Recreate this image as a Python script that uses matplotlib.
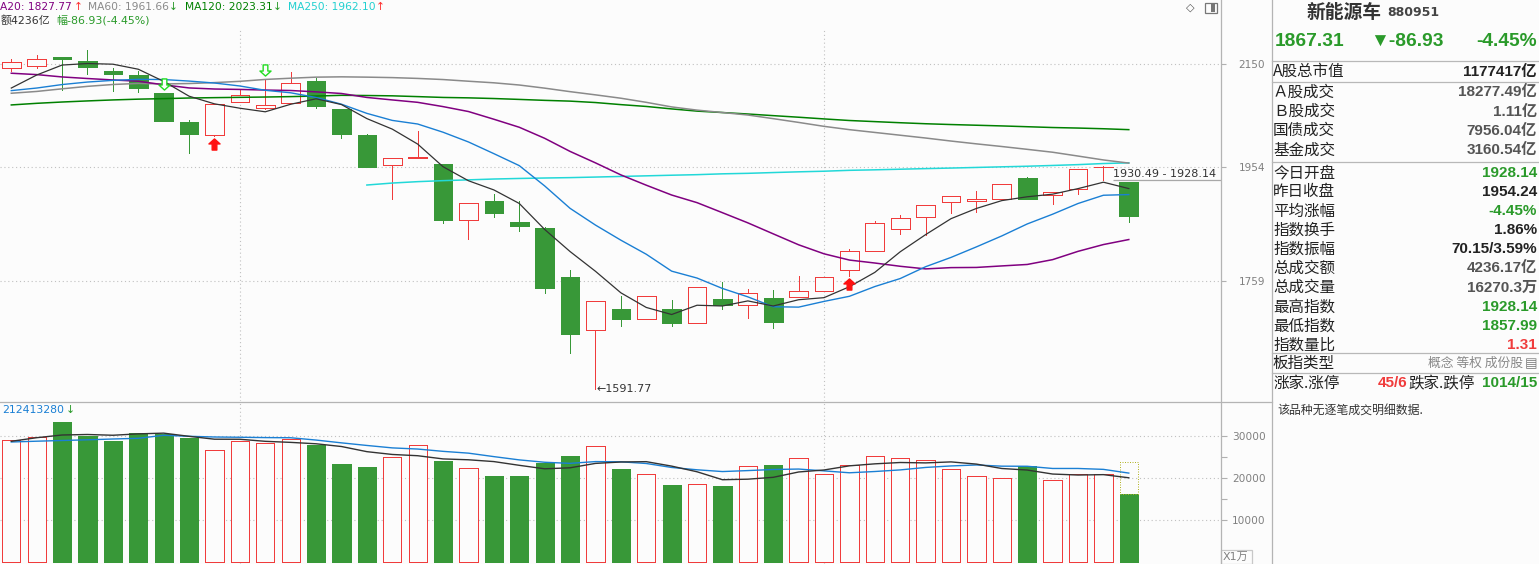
import numpy as np
import matplotlib
matplotlib.use("Agg")
import matplotlib.pyplot as plt
from matplotlib.patches import Rectangle
from matplotlib.lines import Line2D
from matplotlib.path import Path
from matplotlib.ticker import FixedLocator, NullLocator, NullFormatter
from matplotlib.transforms import offset_copy

plt.rcParams['font.family'] = ['DejaVu Sans', 'Noto Sans CJK SC']

# ---- daily candles (index points) ----
opens = [2141.4, 2145.3, 2163.9, 2155.9, 2136.0, 2128.2, 2093.0, 2037.6, 2013.8, 2075.1,
         2064.8, 2073.2, 2116.4, 2062.3, 2013.3, 1957.6, 1971.8, 1960.0, 1860.5, 1894.0,
         1857.6, 1847.3, 1765.5, 1680.5, 1714.0, 1697.7, 1713.5, 1691.4, 1729.9, 1719.8,
         1732.0, 1733.6, 1742.3, 1776.4, 1807.9, 1845.1, 1865.7, 1891.8, 1893.5, 1897.0,
         1934.2, 1904.0, 1915.7, 1953.8, 1928.14]
highs = [2159.9, 2167.9, 2164.6, 2177.9, 2141.4, 2136.0, 2093.0, 2041.4, 2071.3, 2100.2,
         2119.7, 2134.1, 2122.8, 2062.3, 2015.1, 1970.3, 2020.7, 1960.0, 1890.0, 1906.3,
         1894.0, 1848.5, 1776.9, 1726.2, 1735.2, 1734.2, 1728.3, 1748.7, 1756.8, 1746.0,
         1744.3, 1767.1, 1765.5, 1811.8, 1859.3, 1869.7, 1886.5, 1902.3, 1911.6, 1924.0,
         1936.5, 1909.9, 1951.0, 1957.0, 1928.14]
lows = [2136.6, 2141.4, 2098.8, 2130.7, 2097.5, 2095.5, 2040.1, 1980.6, 2010.8, 2075.1,
        2062.8, 2073.2, 2063.6, 2008.2, 1955.1, 1898.1, 1971.8, 1856.4, 1828.1, 1866.7,
        1842.7, 1739.0, 1646.1, 1591.77, 1687.7, 1697.7, 1687.7, 1691.4, 1714.4, 1700.2,
        1684.6, 1733.6, 1742.3, 1767.1, 1807.9, 1837.6, 1834.9, 1872.6, 1875.4, 1897.0,
        1897.5, 1888.3, 1905.8, 1930.49, 1857.99]
closes = [2153.3, 2159.3, 2159.9, 2144.6, 2130.7, 2103.3, 2040.1, 2015.7, 2071.3, 2088.6,
          2069.3, 2111.9, 2068.6, 2015.7, 1955.1, 1970.3, 1972.7, 1861.5, 1890.0, 1873.6,
          1851.2, 1748.1, 1675.2, 1726.2, 1698.6, 1734.2, 1692.4, 1748.7, 1720.3, 1739.0,
          1693.5, 1742.3, 1765.5, 1808.4, 1855.9, 1864.0, 1886.5, 1902.3, 1897.0, 1924.0,
          1897.5, 1909.9, 1951.0, 1954.24, 1867.31]

# ---- moving averages as shown ----
ma5 = [2102.7, 2128.2, 2147.9, 2150.9, 2149.6, 2139.6, 2115.7, 2086.9, 2072.2, 2063.8,
       2057.0, 2071.4, 2081.9, 2070.8, 2044.1, 2024.3, 1996.5, 1955.1, 1929.9, 1913.6,
       1889.8, 1844.9, 1807.6, 1774.9, 1739.9, 1716.5, 1705.3, 1720.0, 1718.8, 1726.9,
       1718.8, 1728.8, 1732.1, 1749.7, 1773.1, 1807.2, 1836.1, 1863.4, 1881.1, 1894.8,
       1901.5, 1906.1, 1915.9, 1927.3, 1916.0]
ma10 = [2097.7, 2102.7, 2109.5, 2114.4, 2117.7, 2119.7, 2119.3, 2116.3, 2112.5, 2106.7,
        2098.3, 2093.5, 2084.4, 2071.5, 2054.0, 2040.7, 2033.9, 2018.5, 2000.4, 1978.9,
        1957.1, 1920.7, 1881.3, 1852.4, 1826.7, 1803.1, 1775.1, 1763.8, 1746.9, 1733.4,
        1717.6, 1717.0, 1726.1, 1734.3, 1750.0, 1763.0, 1782.4, 1797.8, 1815.4, 1833.9,
        1854.3, 1871.1, 1889.7, 1904.2, 1905.4]
ma20 = [2131.7, 2129.0, 2124.4, 2121.3, 2118.5, 2116.0, 2109.0, 2102.9, 2100.8, 2100.0,
        2098.8, 2097.9, 2095.3, 2092.1, 2084.5, 2079.7, 2075.1, 2066.9, 2057.5, 2042.9,
        2027.8, 2007.2, 1983.0, 1962.1, 1940.4, 1922.0, 1904.6, 1891.2, 1873.7, 1856.2,
        1837.4, 1818.9, 1803.8, 1793.4, 1788.5, 1783.1, 1778.8, 1780.9, 1781.2, 1783.7,
        1786.1, 1794.1, 1807.9, 1819.3, 1827.77]
ma60 = [2092.6, 2096.1, 2101.2, 2106.0, 2109.6, 2111.7, 2110.7, 2111.5, 2113.3, 2115.8,
        2119.5, 2121.9, 2124.0, 2124.6, 2124.0, 2123.1, 2121.5, 2119.3, 2116.0, 2112.9,
        2108.6, 2102.5, 2095.7, 2089.5, 2083.0, 2075.1, 2066.3, 2060.2, 2055.6, 2050.9,
        2044.0, 2036.9, 2029.5, 2023.3, 2018.1, 2012.9, 2007.7, 2002.1, 1996.9, 1992.0,
        1986.8, 1981.5, 1974.5, 1967.4, 1961.66]
ma120 = [2070.1, 2073.2, 2075.7, 2077.8, 2079.7, 2081.2, 2082.2, 2083.4, 2084.1, 2084.7,
         2085.3, 2086.1, 2087.2, 2088.6, 2088.2, 2087.6, 2086.1, 2084.5, 2083.7, 2082.4,
         2080.7, 2078.9, 2077.4, 2074.7, 2070.7, 2067.2, 2062.5, 2058.3, 2055.6, 2052.8,
         2049.7, 2046.7, 2043.5, 2040.5, 2038.4, 2036.3, 2034.4, 2032.9, 2031.6, 2030.3,
         2028.8, 2027.3, 2026.3, 2025.0, 2023.31]
ma250 = [np.nan] * 14 + [1922.3, 1925.8, 1928.3, 1930.1, 1931.5, 1933.0, 1934.0, 1934.8,
                         1935.5, 1936.5, 1937.6, 1938.7, 1939.8, 1940.8, 1942.3, 1943.2,
                         1944.6, 1945.9, 1947.0, 1948.6, 1949.5, 1950.6, 1951.7, 1952.7,
                         1953.8, 1954.9, 1956.0, 1957.4, 1958.9, 1960.9, 1962.10]

buy_marks = [8, 33]     # red up arrows
sell_marks = [6, 10]    # green hollow down arrows
month_lines = [9, 32]
price_ticks = [1759, 1954, 2150]
gap_text = '1930.49 - 1928.14'

# ---- volume (x1万) ----
vols = [29120, 29763, 33405, 30072, 28882, 30786, 30620, 29596, 26667, 28810,
        28334, 29358, 27929, 23405, 22691, 25000, 27858, 24120, 22381, 20548,
        20548, 23715, 25310, 27620, 22215, 20953, 18405, 18572, 18167, 22858,
        23167, 24762, 20953, 23096, 25239, 24762, 24286, 22143, 20477, 20000,
        22929, 19524, 20953, 20953, 16270.3]
vol_ma5 = [28810, 29667, 30310, 30430, 30248, 30582, 30753, 29991, 29310, 29296,
           28805, 28553, 28220, 27567, 26343, 25677, 25377, 24615, 24410, 23981,
           23091, 22262, 22500, 23548, 23882, 23963, 22901, 21553, 19662, 19791,
           20234, 21505, 21981, 22967, 23443, 23762, 23667, 23905, 23381, 22334,
           21967, 21015, 20777, 20872, 20126]
vol_ma10 = [28643, 28834, 29000, 29167, 29358, 29524, 30238, 30000, 29834, 29772,
            29694, 29653, 29105, 28439, 27820, 27241, 26965, 26417, 25989, 25162,
            24384, 23820, 23558, 23979, 23932, 23527, 22582, 22027, 21605, 21836,
            22098, 22203, 21767, 21315, 21617, 21998, 22586, 22943, 23174, 22889,
            22865, 22341, 22341, 22127, 21241.3]
vol_est_last = 23810
vol_ticks = [10000, 20000, 30000]
vol_minor = [15000, 25000]

# ---- side panel ----
name, code = '新能源车', '880951'
quote = ['1867.31', '▼-86.93', '-4.45%']
mkt_label, mkt_value = 'A股总市值', '1177417亿'
turn_labels = ['Ａ股成交', 'Ｂ股成交', '国债成交', '基金成交']
turn_values = ['18277.49亿', '1.11亿', '7956.04亿', '3160.54亿']
stat_labels = ['今日开盘', '昨日收盘', '平均涨幅', '指数换手', '指数振幅',
               '总成交额', '总成交量', '最高指数', '最低指数', '指数量比']
stat_values = ['1928.14', '1954.24', '-4.45%', '1.86%', '70.15/3.59%',
               '4236.17亿', '16270.3万', '1928.14', '1857.99', '1.31']

BG = '#fcfcfc'
RED = '#f03c3c'
GREEN = '#389838'
TGREEN = '#2a9a2a'
LINEC = '#b8b8b8'
W, H = 1539, 564
LW = 0.72   # one pixel

def fx(x):
    return x / W

def fy(y):
    return 1 - y / H

fig = plt.figure(figsize=(W / 100, H / 100), dpi=100)
fig.patch.set_facecolor(BG)

ax = fig.add_axes([0, fy(401), fx(1221), 401 / H])
axv = fig.add_axes([0, 0, fx(1221), (H - 402) / H])
for a in (ax, axv):
    a.set_facecolor(BG)
    for s in a.spines.values():
        s.set_visible(False)
    a.set_xlim(-0.445, 47.63)
    a.set_xticks([])

idx = np.arange(len(closes))
bw = 0.736

# ---- price panel ----
ax.set_yscale('log')
ax.set_ylim(1574.2, 2281.1)
ax.yaxis.tick_right()
ax.yaxis.set_major_locator(FixedLocator(price_ticks))
ax.yaxis.set_minor_locator(NullLocator())
ax.yaxis.set_minor_formatter(NullFormatter())
ax.set_yticklabels([str(t) for t in price_ticks])
ax.tick_params(axis='y', length=3.6, width=0.8, color='#b0b0b0', pad=8.9,
               labelsize=7.6, labelcolor='#808080')
for t in price_ticks:
    ax.axhline(t, color='#c0c0c0', lw=0.8, ls=(0, (1, 2.5)), zorder=1)
for m in month_lines:
    ax.axvline(m, ymax=0.925, color='#c0c0c0', lw=0.8, ls=(0, (1, 2.5)), zorder=1)

for i in idx:
    o, h, l, c = opens[i], highs[i], lows[i], closes[i]
    lo, hi = min(o, c), max(o, c)
    if c >= o:
        ax.vlines(i, hi, h, color=RED, lw=LW, zorder=3, antialiased=False)
        ax.vlines(i, l, lo, color=RED, lw=LW, zorder=3, antialiased=False)
        ax.add_patch(Rectangle((i - bw / 2, lo), bw, hi - lo, fc=BG, ec=RED, lw=LW, zorder=3,
                               antialiased=False))
    else:
        ax.vlines(i, l, h, color=GREEN, lw=LW, zorder=3, antialiased=False)
        ax.add_patch(Rectangle((i - bw / 2, lo), bw, hi - lo, fc=GREEN, ec=GREEN, lw=LW, zorder=3,
                               antialiased=False))

ax.plot(idx, ma250, color='#22d8d8', lw=1.1, zorder=4)
ax.plot(idx, ma120, color='#008000', lw=1.1, zorder=4)
ax.plot(idx, ma60, color='#8a8a8a', lw=1.1, zorder=4)
ax.plot(idx, ma20, color='#800080', lw=1.1, zorder=4)
ax.plot(idx, ma10, color='#1a7fd4', lw=1.0, zorder=4)
ax.plot(idx, ma5, color='#333333', lw=0.9, zorder=4)

arrow = Path([(0, 1), (1, 0.1), (0.42, 0.1), (0.42, -1), (-0.42, -1), (-0.42, 0.1), (-1, 0.1), (0, 1)],
             [Path.MOVETO] + [Path.LINETO] * 6 + [Path.CLOSEPOLY])
arrow_dn = Path(arrow.vertices * [1, -1], arrow.codes)
below = offset_copy(ax.transData, fig=fig, y=-8, units='dots')
above = offset_copy(ax.transData, fig=fig, y=9, units='dots')
for i in buy_marks:
    ax.plot(i, lows[i], marker=arrow, ms=8, color='#ff1010', mec='#ff1010', transform=below, zorder=5)
for i in sell_marks:
    ax.plot(i, highs[i], marker=arrow_dn, ms=8, mfc=BG, mec='#22dd22', mew=1, transform=above, zorder=5)

lo_i = int(np.argmin(lows))
ax.text(lo_i + 0.03, lows[lo_i], '←' + f'{lows[lo_i]:.2f}', ha='left', va='center',
        fontsize=8, color='#333333', family='DejaVu Sans', zorder=6)

ax.hlines(lows[-2], idx[-2] + 0.37, 47.63, color='#a8a8a8', lw=0.9, zorder=5)
ax.text(47.45, lows[-2] * 1.0012, gap_text, ha='right', va='bottom', fontsize=8,
        color='#333333', family='DejaVu Sans', zorder=6)

# ---- volume panel ----
axv.set_ylim(-405, 38167)
axv.yaxis.tick_right()
axv.yaxis.set_major_locator(FixedLocator(vol_ticks))
axv.yaxis.set_minor_locator(FixedLocator(vol_minor))
axv.set_yticklabels([str(t) for t in vol_ticks])
axv.tick_params(axis='y', which='both', length=4.3, width=0.8, color='#b0b0b0', pad=3.8,
                labelsize=7.6, labelcolor='#808080')
for t in vol_ticks:
    axv.axhline(t, color='#c0c0c0', lw=0.8, ls=(0, (1, 2.5)), zorder=1)
for m in month_lines:
    axv.axvline(m, color='#c0c0c0', lw=0.8, ls=(0, (1, 2.5)), zorder=1)

vw = 0.72
for i in idx:
    if closes[i] >= opens[i]:
        axv.add_patch(Rectangle((i - vw / 2, 0), vw, vols[i], fc=BG, ec=RED, lw=LW, zorder=3,
                                antialiased=False))
    else:
        axv.add_patch(Rectangle((i - vw / 2, 0), vw, vols[i], fc=GREEN, ec=GREEN, lw=LW, zorder=3,
                                antialiased=False))
axv.add_patch(Rectangle((idx[-1] - vw / 2, vols[-1]), vw, vol_est_last - vols[-1], fill=False,
                        ec='#b4b428', lw=LW, ls=(0, (1, 1.5)), zorder=3))
axv.plot(idx, vol_ma10, color='#1a7fd4', lw=1.0, zorder=4)
axv.plot(idx, vol_ma5, color='#333333', lw=1.0, zorder=4)

# ---- frame lines ----
fig.add_artist(Line2D([fx(1221), fx(1221)], [0, 1], color='#b4b4b4', lw=0.9))
fig.add_artist(Line2D([fx(1271.5), fx(1271.5)], [0, 1], color='#b4b4b4', lw=0.9))
fig.add_artist(Line2D([0, fx(1271.5)], [fy(402), fy(402)], color='#b4b4b4', lw=0.9))
for yy in [60.7, 82.3, 162, 353.3, 372.7]:
    fig.add_artist(Line2D([fx(1271.5), 1], [fy(yy), fy(yy)], color=LINEC, lw=0.9))

# ---- header legend ----
leg_txt = ['A20: 1827.77', '↑', 'MA60: 1961.66', '↓', 'MA120: 2023.31', '↓', 'MA250: 1962.10', '↑']
leg_x = [0, 74, 88, 169, 185, 273, 288, 376]
leg_c = ['#800080', '#ff3030', '#8a8a8a', TGREEN, '#008000', TGREEN, '#22d0d0', '#ff3030']
for s, x, c in zip(leg_txt, leg_x, leg_c):
    fig.text(fx(x), fy(7), s, color=c, fontsize=7.7, va='center', ha='left')
fig.text(fx(1), fy(20.5), '额4236亿', color='#333333', fontsize=7.9, va='center')
fig.text(fx(56), fy(20.5), '幅-86.93(-4.45%)', color=TGREEN, fontsize=7.9, va='center')
fig.text(fx(1186), fy(7.5), '◇', color='#555555', fontsize=8, va='center', family='DejaVu Sans')
fig.add_artist(Rectangle((fx(1205), fy(13)), fx(11.5), 10 / H, fill=False, ec='#777777', lw=0.9))
fig.add_artist(Rectangle((fx(1211), fy(12)), fx(4), 8 / H, fc='#777777', ec='none'))

fig.text(fx(2), fy(410), '212413280', color='#1a7fd4', fontsize=7.8, va='center', family='DejaVu Sans')
fig.text(fx(66), fy(410), '↓', color=TGREEN, fontsize=7.8, va='center', family='DejaVu Sans')
fig.add_artist(Rectangle((fx(1221), fy(564)), fx(30.5), 14.5 / H, fill=False, ec='#c8c8c8', lw=0.9))
fig.text(fx(1236), fy(557), 'X1万', color='#808080', fontsize=8, ha='center', va='center',
         family=['DejaVu Sans', 'Noto Sans CJK SC'])

# ---- side panel ----
CJK = ['Noto Sans CJK SC', 'DejaVu Sans']
NUM = ['Liberation Sans', 'Noto Sans CJK SC']
fig.text(fx(1307), fy(12), name, fontsize=13.5, weight='bold', color='#333333', family=CJK, va='center')
fig.text(fx(1387), fy(13), code, fontsize=9, weight='bold', color='#444444', family='DejaVu Sans', va='center')
for s, x, ha in zip(quote, [1275, 1444, 1537], ['left', 'right', 'right']):
    fig.text(fx(x), fy(41), s, fontsize=13.8, weight='bold', color=TGREEN, family=['Liberation Sans', 'DejaVu Sans'],
             ha=ha, va='center')

label_kw = dict(fontsize=11.2, color='#222222', family=CJK, va='center', ha='left')
value_kw = dict(fontsize=11, weight='bold', family=NUM, va='center', ha='right')
fig.text(fx(1273), fy(71.7), mkt_label, **label_kw)
fig.text(fx(1537), fy(71.7), mkt_value, color='#222222', **value_kw)
for k, (lab, val) in enumerate(zip(turn_labels, turn_values)):
    yy = 92.3 + k * 19.2
    fig.text(fx(1273), fy(yy), lab, **label_kw)
    fig.text(fx(1537), fy(yy), val, color='#555555', **value_kw)
stat_colors = [TGREEN, '#222222', TGREEN, '#222222', '#222222',
               '#555555', '#555555', TGREEN, TGREEN, RED]
for k, (lab, val, c) in enumerate(zip(stat_labels, stat_values, stat_colors)):
    yy = 172.7 + k * 19.15
    fig.text(fx(1273), fy(yy), lab, **label_kw)
    fig.text(fx(1537), fy(yy), val, color=c, **value_kw)

fig.text(fx(1273), fy(363.3), '板指类型', **label_kw)
fig.text(fx(1523), fy(363.3), '概念 等权 成份股', fontsize=9.2, color='#888888', family=CJK, ha='right', va='center')
fig.text(fx(1537), fy(363.3), '▤', fontsize=9.5, color='#777777', family='DejaVu Sans', ha='right', va='center')

fig.text(fx(1273), fy(383.3), '涨家.涨停', **label_kw)
fig.text(fx(1378), fy(383.3), '45/6', color=RED, fontsize=11, weight='bold', family=NUM, va='center', ha='left')
fig.text(fx(1408), fy(383.3), '跌家.跌停', **label_kw)
fig.text(fx(1537), fy(383.3), '1014/15', color=TGREEN, **value_kw)
fig.text(fx(1277), fy(411.5), '该品种无逐笔成交明细数据.', fontsize=8.6, color='#333333', family=CJK, va='center')

fig.savefig('out.png', dpi=100, facecolor=BG)
